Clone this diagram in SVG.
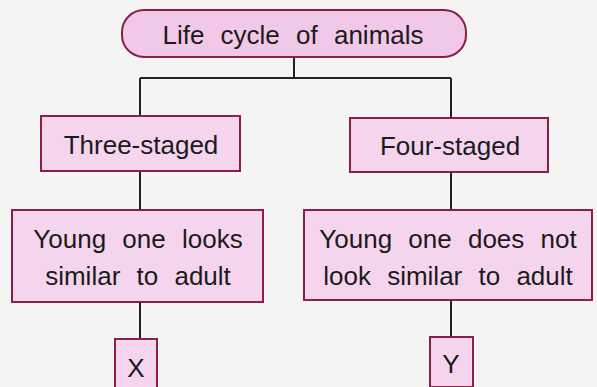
<svg xmlns="http://www.w3.org/2000/svg" width="597" height="387" viewBox="0 0 597 387">
<style>
.box{fill:#f5d5ee;stroke:#8a1f4c;stroke-width:2}
.title{fill:#f1c8e7;stroke:#8a1f4c;stroke-width:2}
.t{font-family:"Liberation Sans",Arial,sans-serif;font-size:26px;fill:#1b1b1b;text-anchor:middle;word-spacing:9px}
.c{stroke:#222;stroke-width:2;fill:none}
</style>
<rect width="597" height="387" fill="#f4f4f2"/>
<g id="connectors">
<path class="c" d="M294 57V78M140 78H451M140 78V116M451 78V118M140 171V210M451 172V210M140 302V339M451 300V337"/>
</g>
<g id="n-title"><rect class="title" x="122" y="10" width="344" height="47" rx="22"/><text class="t" x="293" y="44">Life cycle of animals</text></g>
<g id="n-three"><rect class="box" x="41" y="116" width="199" height="55"/><text class="t" x="141" y="154">Three-staged</text></g>
<g id="n-four"><rect class="box" x="350" y="118" width="198" height="54"/><text class="t" x="450" y="155">Four-staged</text></g>
<g id="n-similar"><rect class="box" x="12" y="210" width="251" height="92"/><text class="t" x="138" y="248">Young one looks</text><text class="t" x="138" y="285">similar to adult</text></g>
<g id="n-notsimilar"><rect class="box" x="304" y="210" width="288" height="90"/><text class="t" x="448" y="248">Young one does not</text><text class="t" x="448" y="285">look similar to adult</text></g>
<g id="n-x"><rect class="box" x="115" y="339" width="42" height="50"/><text class="t" x="136" y="377">X</text></g>
<g id="n-y"><rect class="box" x="430" y="337" width="43" height="50"/><text class="t" x="451" y="373">Y</text></g>
</svg>
